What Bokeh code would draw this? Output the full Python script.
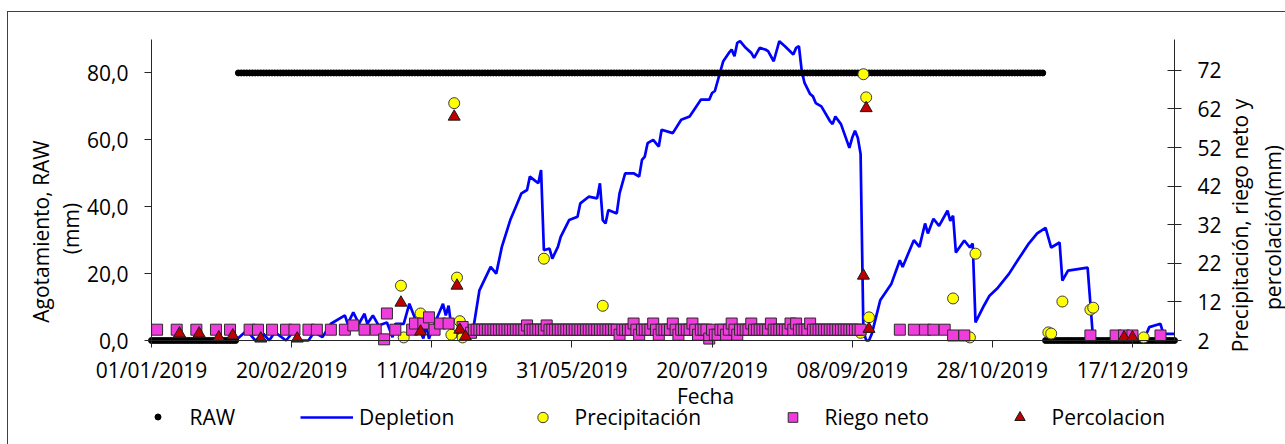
import math
import numpy as np
import pandas as pd
from bokeh.plotting import figure
from bokeh.models import (Range1d, LinearAxis, FixedTicker, Legend, LegendItem, Label)
from bokeh.embed import file_html
from bokeh.resources import INLINE

START = "2019-01-01"
END = "2020-01-01"

# ---------------- data ----------------
x_tick_labels = ["01/01/2019", "20/02/2019", "11/04/2019", "31/05/2019",
                 "20/07/2019", "08/09/2019", "28/10/2019", "17/12/2019"]
y_left_ticks = [0, 20, 40, 60, 80]
y_left_labels = ["0,0", "20,0", "40,0", "60,0", "80,0"]
y_left_bounds = (0, 90)
y_right_ticks = [2, 12, 22, 32, 42, 52, 62, 72]
y_right_bounds = (2, 80)

# RAW: (first day, last day, value) in days since 01/01/2019, one point per day
raw_runs = [(0, 30, 0.0), (31, 318, 80.0), (319, 365, 0.0)]

# Depletion (left axis) - vertices of the daily line
dep_day = [0, 30, 34, 37, 40, 42, 44, 48, 51, 53, 56, 58, 61, 64, 69, 70, 72, 74, 76, 77,
           79, 81, 84, 86, 87, 90, 92, 95, 97, 98, 99, 100, 102, 104, 105, 106, 107, 109,
           110, 112, 115, 117, 121, 123, 125, 128, 130, 132, 134, 135, 138, 139, 140, 142,
           143, 145, 146, 149, 152, 153, 156, 159, 160, 161, 162, 163, 166, 167, 169, 172,
           174, 175, 176, 177, 179, 181, 182, 186, 189, 192, 196, 199, 200, 201, 204, 206,
           207, 208, 209, 210, 212, 214, 215, 217, 219, 220, 222, 224, 226, 229, 230, 231,
           232, 233, 235, 236, 237, 239, 242, 243, 244, 246, 249, 250, 251, 252, 253, 254,
           255, 256, 257, 260, 264, 267, 268, 272, 274, 276, 277, 279, 281, 284, 285, 286,
           287, 290, 292, 293, 294, 297, 299, 302, 306, 309, 313, 316, 319, 321, 324, 325,
           327, 334, 336, 354, 356, 360, 361, 365]
dep_val = [0, 0, 3, 0, 2, 0, 2.5, 0, 3, 0, 0, 2.5, 1, 5, 7.5, 5, 8.4, 5, 8, 5,
           7.5, 4.5, 5.4, 1, 5, 5, 11, 4.5, 0.6, 4.5, 0.5, 3, 7, 11, 7.5, 10.4, 4, 1,
           4, 2, 4.5, 15, 22, 20, 28, 36, 40, 44, 45, 49, 47, 51, 27, 27.5,
           24.5, 28, 31, 36, 37, 41, 43, 42.5, 47, 36, 35, 39, 38, 44, 50, 50,
           49, 54, 55, 59, 60, 58, 63, 62, 66, 67, 72, 72, 74, 74.6, 83.5, 86,
           87, 85, 89, 89.5, 87.5, 86, 84.5, 87.5, 87, 86.5, 83.5, 89.5, 88, 85.5, 87.5, 88,
           80.6, 77, 73.7, 73, 71, 70, 65.7, 64.7, 67, 64.7, 57.6, 60.6, 62.7, 60.6, 55.8, 3,
           0, 0, 2, 12, 17, 24, 22, 30, 28, 35, 32, 36.4, 34.3, 38.8, 35.8, 37.3,
           26.3, 29.9, 27.8, 29, 5.4, 10.4, 13.4, 15.8, 20, 23.9, 29, 32, 33.7, 27.8, 29.3, 17.9,
           20.9, 21.8, 0, 0, 4, 5, 2, 2]

# Precipitación (right axis)
precip_day = [89, 90, 96, 107, 108, 109, 110, 111, 140, 161, 253, 254, 255, 256,
              286, 292, 294, 320, 321, 325, 335, 336, 354]
precip_val = [16.2, 2.8, 9.0, 3.5, 63.5, 18.3, 7.0, 2.8, 23.2, 11.0, 4.0, 71.0, 65.0, 8.0,
              12.9, 2.8, 24.5, 4.1, 3.8, 12.1, 10.0, 10.5, 2.8]

# Riego neto (right axis): isolated events
riego_day = [2, 9, 16, 23, 28, 35, 38, 43, 48, 51, 56, 59, 64, 69, 72, 76, 80, 83, 84,
             87, 93, 94, 97, 99, 101, 103, 106, 111,
             267, 272, 276, 279, 283, 286, 290, 335, 344, 347, 350, 360]
riego_val = [4.8, 4.8, 4.8, 4.8, 4.8, 4.8, 4.8, 4.8, 4.8, 4.8, 4.8, 4.8, 4.8, 4.8, 5.9,
             4.8, 4.8, 2.3, 9.0, 4.8, 4.8, 6.4, 6.4, 8.0, 4.8, 6.4, 6.4, 5.5,
             4.8, 4.8, 4.8, 4.8, 4.8, 3.3, 3.3, 3.3, 3.3, 3.3, 3.3, 3.3]
# Riego neto: daily values from day 114 to day 253
riego_daily_first_day = 114
riego_daily = [
    4.0, 4.8, 4.8, 4.8, 4.8, 4.8, 4.8,
    4.8, 4.8, 4.8, 4.8, 4.8, 4.8, 4.8,
    4.8, 4.8, 4.8, 4.8, 4.8, 4.8, 5.9,
    4.8, 4.8, 4.8, 4.8, 4.8, 4.8, 5.9,
    4.8, 4.8, 4.8, 4.8, 4.8, 4.8, 4.8,
    4.8, 4.8, 4.8, 4.8, 4.8, 4.8, 4.8,
    4.8, 4.8, 4.8, 4.8, 4.8, 4.8, 4.8,
    4.8, 4.8, 4.8, 4.8, 3.5, 4.8, 4.8,
    4.8, 4.8, 6.4, 4.8, 3.5, 4.8, 4.8,
    4.8, 4.8, 6.4, 4.8, 3.5, 4.8, 4.8,
    4.8, 4.8, 6.4, 4.8, 3.5, 4.8, 4.8,
    4.8, 4.8, 6.4, 4.8, 3.5, 4.8, 4.8,
    4.8, 2.5, 4.8, 3.5, 3.5, 4.8, 4.8,
    3.5, 4.8, 6.4, 4.8, 3.5, 4.8, 4.8,
    4.8, 4.8, 6.4, 4.8, 4.8, 4.8, 4.8,
    4.8, 4.8, 6.4, 4.8, 4.8, 4.8, 4.8,
    4.8, 4.8, 6.4, 4.8, 6.4, 4.8, 4.8,
    4.8, 4.8, 6.4, 4.8, 4.8, 4.8, 4.8,
    4.8, 4.8, 4.8, 4.8, 4.8, 4.8, 4.8,
    4.8, 4.8, 4.8, 4.8, 4.8, 4.8, 4.8,
]

# Percolacion (right axis)
perc_day = [10, 17, 24, 29, 39, 52, 89, 96, 108, 109, 110, 112, 254, 255, 256, 347, 350]
perc_val = [3.8, 3.8, 2.8, 3.3, 2.5, 2.5, 11.8, 4.3, 60.0, 16.2, 4.8, 3.0, 18.8, 62.2, 5.0,
            2.8, 2.8]

# ---------------- helpers ----------------
base = pd.Timestamp(START)
end = pd.Timestamp(END)
EPOCH = pd.Timestamp("1970-01-01")


def to_dates(days):
    return (base + pd.to_timedelta(np.asarray(days, dtype=float), unit="D")).to_numpy()


def ms(ts):
    return float((ts - EPOCH) / pd.Timedelta(milliseconds=1))


raw_day, raw_val = [], []
for d0, d1, v in raw_runs:
    for d in range(d0, d1 + 1):
        raw_day.append(d)
        raw_val.append(v)

riego_all_day = list(riego_day) + [riego_daily_first_day + i for i in range(len(riego_daily))]
riego_all_val = list(riego_val) + list(riego_daily)

# ---------------- layout constants (canvas pixels) ----------------
FONT = "Open Sans"
FS = "21px"
TXT = "#000000"
AX = "#262626"
W, H = 1285, 444
AXL, AXR, AXT, AXB = 151, 1174, 39, 340   # where the plotting axes sit

# the frame is the whole canvas; axes are pinned to the data edges
n_days = (end - base) / pd.Timedelta(days=1)
px_day = (AXR - AXL) / n_days
x_start = base - pd.Timedelta(days=AXL / px_day)
x_end = end + pd.Timedelta(days=(W - AXR) / px_day)

lpx = (AXB - AXT) / (y_left_bounds[1] - y_left_bounds[0])
rpx = (AXB - AXT) / (y_right_bounds[1] - y_right_bounds[0])

p = figure(width=W, height=H, x_axis_type="datetime", output_backend="svg",
           toolbar_location=None,
           x_range=Range1d(x_start, x_end),
           y_range=Range1d(y_left_bounds[0] - (H - AXB) / lpx, y_left_bounds[1] + AXT / lpx),
           min_border=0, min_border_left=0, min_border_right=0,
           min_border_top=0, min_border_bottom=0)
p.title.visible = False
p.extra_y_ranges = {"right": Range1d(y_right_bounds[0] - (H - AXB) / rpx,
                                     y_right_bounds[1] + AXT / rpx)}
p.outline_line_color = None
p.xgrid.visible = False
p.ygrid.visible = False
p.background_fill_color = None
p.border_fill_color = None
# white page with the outer chart border (top and left edges)
p.styles = {
    "background": ("linear-gradient(#404040,#404040) 7px 11px / 1278px 1px no-repeat, "
                   "linear-gradient(#404040,#404040) 7px 11px / 1px 433px no-repeat, #ffffff")
}

# x axis (pinned at y = 0)
tick_ts = pd.to_datetime(x_tick_labels, format="%d/%m/%Y")
tick_ms = [ms(t) for t in tick_ts]
xa = p.xaxis[0]
xa.ticker = FixedTicker(ticks=tick_ms)
xa.major_label_overrides = {m: lab for m, lab in zip(tick_ms, x_tick_labels)}
xa.fixed_location = y_left_bounds[0]
xa.bounds = (ms(base), ms(end))

# left axis (pinned at 01/01/2019)
ya = p.yaxis[0]
ya.ticker = FixedTicker(ticks=y_left_ticks)
ya.major_label_overrides = {t: lab for t, lab in zip(y_left_ticks, y_left_labels)}
ya.fixed_location = ms(base)
ya.bounds = y_left_bounds

# right axis (pinned at 01/01/2020)
ra = LinearAxis(y_range_name="right", ticker=FixedTicker(ticks=y_right_ticks),
                fixed_location=ms(end), bounds=y_right_bounds)
p.add_layout(ra, "right")

for ax in (xa, ya, ra):
    ax.axis_line_color = AX
    ax.axis_line_width = 1
    ax.major_tick_line_color = AX
    ax.minor_tick_line_color = None
    ax.major_label_text_font = FONT
    ax.major_label_text_font_size = FS
    ax.major_label_text_color = TXT
    ax.major_tick_out = 7
    ax.major_tick_in = 0
ra.major_tick_in = 7
xa.major_label_standoff = 8
ya.major_label_standoff = 16
ra.major_label_standoff = 16

# ---------------- series ----------------
r_dep = p.line(to_dates(dep_day), dep_val, line_color="#0000FF", line_width=2.7)
r_raw = p.scatter(to_dates(raw_day), raw_val, marker="circle", size=6,
                  fill_color="black", line_color="black", line_width=1)
r_pre = p.scatter(to_dates(precip_day), precip_val, marker="circle", size=11,
                  fill_color="#FFFF00", line_color="#3a3a3a", line_width=1,
                  y_range_name="right")
r_rie = p.scatter(to_dates(riego_all_day), riego_all_val, marker="square", size=11,
                  fill_color="#F03CDC", line_color="#2a2a2a", line_width=1,
                  y_range_name="right")
r_per = p.scatter(to_dates(perc_day), perc_val, marker="triangle", size=12,
                  fill_color="#C00000", line_color="#1a1a1a", line_width=1,
                  y_range_name="right")

# ---------------- legend (one per entry, positioned like the original) -------------
LEG_CY = 416     # vertical centre of the legend row (canvas px)
LEG_H = 29       # rendered height of one legend row (set by the label text)
legend_entries = [("RAW", r_raw, 130.5, 15), ("Depletion", r_dep, 300, 26),
                  ("Precipitación", r_pre, 515.5, 26), ("Riego neto", r_rie, 765.5, 24),
                  ("Percolacion", r_per, 992.5, 26)]
for lab, rend, gx, gh in legend_entries:
    lg = Legend(items=[LegendItem(label=lab, renderers=[rend])],
                location=(gx, H - LEG_CY - LEG_H / 2), orientation="horizontal",
                glyph_width=53, glyph_height=gh, label_height=gh, label_standoff=6,
                padding=0, margin=0, border_line_color=None,
                background_fill_alpha=0, label_text_font=FONT,
                label_text_font_size=FS, label_text_color=TXT)
    p.add_layout(lg)


# ---------------- axis titles ----------------
def add_label(text, cx, cy, angle=0.0):
    p.add_layout(Label(x=cx, y=H - cy, x_units="screen", y_units="screen",
                       text=text, angle=angle, text_align="center", text_baseline="middle",
                       text_font=FONT, text_font_size=FS, text_color=TXT))


add_label("Agotamiento, RAW", 40.5, 231, math.pi / 2)
add_label("(mm)", 70, 228, math.pi / 2)
add_label("Precipitación, riego neto y", 1239, 225, math.pi / 2)
add_label("percolación(mm)", 1272, 227, math.pi / 2)
add_label("Fecha", 705, 395)

open("out.html", "w").write(file_html(p, INLINE))
